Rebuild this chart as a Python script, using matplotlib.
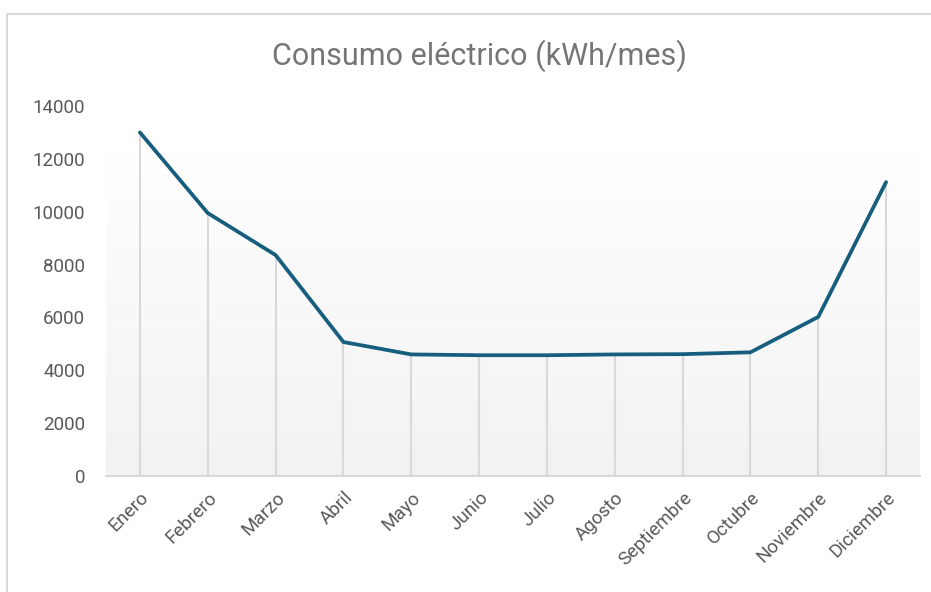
import numpy as np
import matplotlib.pyplot as plt
from matplotlib.patches import Rectangle

# datos
meses = ["Enero", "Febrero", "Marzo", "Abril", "Mayo", "Junio", "Julio",
         "Agosto", "Septiembre", "Octubre", "Noviembre", "Diciembre"]
consumo = [13000, 9950, 8360, 5070, 4600, 4570, 4570, 4600, 4610, 4680, 6020, 11120]
yticks = [0, 2000, 4000, 6000, 8000, 10000, 12000, 14000]

plt.rcParams['font.family'] = ['Roboto', 'DejaVu Sans']

W, H = 931, 592
fig = plt.figure(figsize=(W / 100, H / 100), dpi=100)

# marco exterior del gráfico (cortado a la derecha y abajo)
fig.patches.append(Rectangle((7 / W, -0.1), 1.2, 1 - 14 / H + 0.1,
                             transform=fig.transFigure, fill=False,
                             edgecolor="#d9d9d9", linewidth=1.5))

left, right, top, bottom = 106, 920, 106, 476
ax = fig.add_axes([left / W, 1 - bottom / H, (right - left) / W, (bottom - top) / H])

x = np.arange(len(meses))

# fondo degradado del área de trazado
grad = np.linspace(0, 1, 256).reshape(-1, 1)
cmap = plt.matplotlib.colors.LinearSegmentedColormap.from_list("g", ["#f2f2f2", "#ffffff"])
ax.imshow(grad, aspect="auto", cmap=cmap, origin="lower",
          extent=(-0.5, len(meses) - 0.5, 0, 12400), zorder=0)

# líneas de caída
ax.vlines(x, 0, consumo, colors="#d9d9d9", linewidth=1.5, zorder=1)
ax.plot(x, consumo, color="#175e7e", linewidth=2.7, solid_joinstyle="round",
        solid_capstyle="round", zorder=3)

ax.set_xlim(-0.5, len(meses) - 0.5)
ax.set_ylim(0, 14000)
ax.set_yticks(yticks)
ax.set_yticklabels([str(v) for v in yticks], color="#595959", fontsize=13.5)
ax.set_xticks(x)
ax.set_xticklabels(meses, rotation=45, ha="right", rotation_mode="anchor",
                   color="#595959", fontsize=13.5)
ax.tick_params(axis="both", length=0)
ax.tick_params(axis="y", pad=15)
ax.tick_params(axis="x", pad=9)

for s in ["top", "right", "left"]:
    ax.spines[s].set_visible(False)
ax.spines["bottom"].set_color("#d9d9d9")
ax.spines["bottom"].set_linewidth(1.5)
ax.set_facecolor("white")

fig.text(479 / W, 1 - 56 / H, "Consumo eléctrico (kWh/mes)", ha="center", va="center",
         fontsize=22, color="#757575")

fig.savefig("out.png", dpi=100)
